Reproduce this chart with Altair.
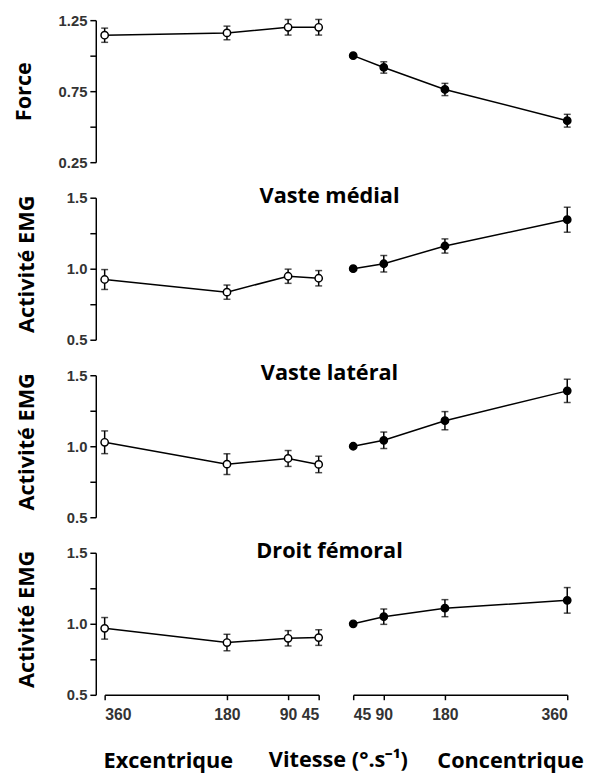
import altair as alt
import pandas as pd

speeds_ecc = [360, 180, 90, 45]
speeds_con = [45, 90, 180, 360]

force_ecc = [1.144, 1.16, 1.20, 1.20]
force_ecc_err = [0.05, 0.048, 0.055, 0.055]
force_con = [1.0, 0.917, 0.762, 0.542]
force_con_err = [0.0, 0.04, 0.043, 0.045]

vm_ecc = [0.924, 0.835, 0.947, 0.933]
vm_ecc_err = [0.07, 0.05, 0.05, 0.054]
vm_con = [1.0, 1.035, 1.16, 1.345]
vm_con_err = [0.0, 0.058, 0.05, 0.088]

vl_ecc = [1.028, 0.874, 0.914, 0.872]
vl_ecc_err = [0.08, 0.073, 0.056, 0.058]
vl_con = [1.0, 1.042, 1.18, 1.39]
vl_con_err = [0.0, 0.058, 0.064, 0.082]

df_ecc = [0.968, 0.868, 0.898, 0.903]
df_ecc_err = [0.076, 0.058, 0.054, 0.055]
df_con = [1.0, 1.05, 1.11, 1.165]
df_con_err = [0.0, 0.054, 0.06, 0.09]

row_titles = ["", "Vaste médial", "Vaste latéral", "Droit fémoral"]
y_titles = ["Force", "Activité EMG", "Activité EMG", "Activité EMG"]
y_domains = [[0.25, 1.25], [0.5, 1.5], [0.5, 1.5], [0.5, 1.5]]
y_ticks = [[0.25, 0.5, 0.75, 1.0, 1.25]] + [[0.5, 0.75, 1.0, 1.25, 1.5]] * 3
y_labeled = [[0.25, 0.75, 1.25]] + [[0.5, 1.0, 1.5]] * 3
y_formats = [".2f", ".1f", ".1f", ".1f"]
x_titles = ["Excentrique", "Concentrique"]
mid_title = "Vitesse (°.s⁻¹)"

rows_data = [
    (force_ecc, force_ecc_err, force_con, force_con_err),
    (vm_ecc, vm_ecc_err, vm_con, vm_con_err),
    (vl_ecc, vl_ecc_err, vl_con, vl_con_err),
    (df_ecc, df_ecc_err, df_con, df_con_err),
]

BOLD_FONT = "Open Sans"
TICK_FONT = "Liberation Sans"
PW, PH = 217, 144


def panel(i, speeds, vals, errs, is_left, is_bottom):
    d = pd.DataFrame({"speed": speeds, "val": vals, "err": errs})
    d["lo"] = d["val"] - d["err"]
    d["hi"] = d["val"] + d["err"]

    if is_bottom:
        x_axis = alt.Axis(
            values=speeds, format="d", grid=False,
            domainColor="black", domainWidth=1.5,
            tickColor="black", tickWidth=1.5, tickSize=5,
            labelFont=TICK_FONT, labelFontSize=16, labelFontWeight="bold",
            labelColor="#333", labelPadding=7,
            title=x_titles[0] if is_left else x_titles[1],
            titleFont=BOLD_FONT, titleFontSize=22, titleFontWeight="bold",
            titleColor="black", titleBaseline="alphabetic", titleAlign="center",
            titleX=64 if is_left else 159, titleY=74,
        )
    else:
        x_axis = None
    xscale = alt.Scale(domain=[45, 360], reverse=is_left, nice=False, zero=False)

    if is_left:
        labeled = ",".join(str(v) for v in y_labeled[i])
        y_axis = alt.Axis(
            values=y_ticks[i], grid=False, offset=9,
            labelExpr=f"indexof([{labeled}], datum.value) >= 0 ? format(datum.value, '{y_formats[i]}') : ''",
            domainColor="black", domainWidth=1.5,
            tickColor="black", tickWidth=1.5, tickSize=6,
            labelFont=TICK_FONT, labelFontSize=15, labelFontWeight="bold",
            labelColor="#333", labelPadding=3,
            title=y_titles[i], titleFont=BOLD_FONT, titleFontSize=22,
            titleFontWeight="bold", titleColor="black", titleAngle=-90,
            titleAlign="center", titleBaseline="middle",
            titleX=-73 if i == 0 else -70, titleY=72 if i == 0 else 67,
        )
    else:
        y_axis = None
    yscale = alt.Scale(domain=y_domains[i], nice=False, zero=False)

    X = alt.X("speed:Q", scale=xscale, axis=x_axis)
    base = alt.Chart(d)
    line = base.mark_line(color="black", strokeWidth=1.5).encode(
        x=X, y=alt.Y("val:Q", scale=yscale, axis=y_axis)
    )
    eb = base.transform_filter("datum.err > 0")
    bars = eb.mark_rule(color="black", strokeWidth=1.5).encode(
        x=X, y=alt.Y("lo:Q", scale=yscale, axis=y_axis), y2="hi:Q"
    )
    cap_lo = eb.mark_tick(orient="horizontal", size=7, thickness=1.5, color="black").encode(
        x=X, y=alt.Y("lo:Q", scale=yscale, axis=y_axis)
    )
    cap_hi = eb.mark_tick(orient="horizontal", size=7, thickness=1.5, color="black").encode(
        x=X, y=alt.Y("hi:Q", scale=yscale, axis=y_axis)
    )
    pts = base.mark_point(
        filled=True, fill="white" if is_left else "black", stroke="black",
        strokeWidth=1.5, size=55, opacity=1,
    ).encode(x=X, y=alt.Y("val:Q", scale=yscale, axis=y_axis))

    layers = [line, bars, cap_lo, cap_hi, pts]

    if (not is_left) and row_titles[i]:
        t = alt.Chart(pd.DataFrame({"t": [row_titles[i]]})).mark_text(
            font=BOLD_FONT, fontSize=22, fontWeight="bold", color="black",
            align="center", baseline="alphabetic",
        ).encode(x=alt.value(-24), y=alt.value(5), text="t:N")
        layers.append(t)
    if is_left and is_bottom:
        t = alt.Chart(pd.DataFrame({"t": [mid_title]})).mark_text(
            font=BOLD_FONT, fontSize=22, fontWeight="bold", color="black",
            align="center", baseline="alphabetic",
        ).encode(x=alt.value(237), y=alt.value(217), text="t:N")
        layers.append(t)

    return alt.layer(*layers).properties(width=PW, height=PH)


panels = []
for i, (e, ee, c, ce) in enumerate(rows_data):
    bottom = i == 3
    panels.append(panel(i, speeds_ecc, e, ee, True, bottom))
    panels.append(panel(i, speeds_con, c, ce, False, bottom))

chart = alt.concat(
    *panels, columns=2, spacing={"row": 36, "column": 35}, bounds="flush"
).properties(
    padding={"left": 5, "top": 0, "right": 0, "bottom": 0}
).configure_view(stroke=None)

chart.save("out.html", embed_options={"renderer": "svg", "actions": False})
